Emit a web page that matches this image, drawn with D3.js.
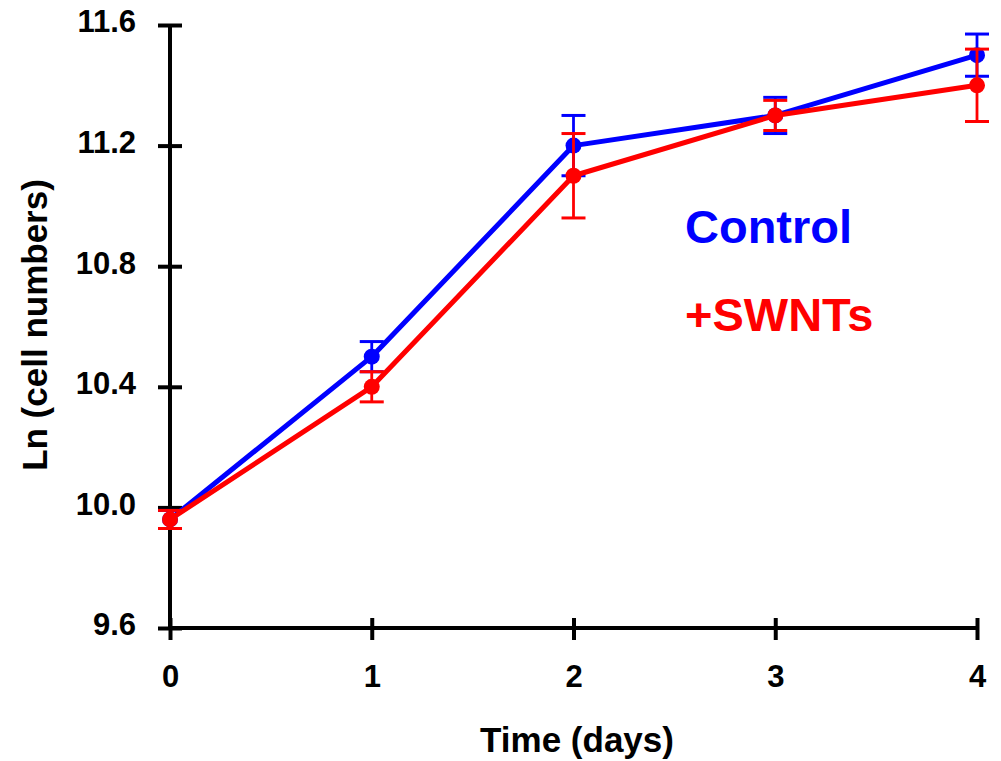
<!DOCTYPE html>
<html><head><meta charset="utf-8">
<script src="https://cdn.jsdelivr.net/npm/d3@7"></script>
<style>body{margin:0;background:#fff}</style>
</head><body>
<svg id="c" width="1001" height="761"></svg>
<script>
const days = [0, 1, 2, 3, 4];
const controlMean = [9.96, 10.50, 11.20, 11.30, 11.50];
const controlErr  = [0.03, 0.05, 0.10, 0.06, 0.07];
const swntMean    = [9.96, 10.40, 11.10, 11.30, 11.40];
const swntErr     = [0.03, 0.05, 0.14, 0.05, 0.12];
const yTicks = [9.6, 10.0, 10.4, 10.8, 11.2, 11.6];
const xTicks = [0, 1, 2, 3, 4];

const svg = d3.select("#c");
const font = "Arial, 'Liberation Sans', sans-serif";
const x = d3.scaleLinear().domain([0, 4]).range([170, 977]);
const y = d3.scaleLinear().domain([9.6, 11.6]).range([628, 25]);

// axes
const yAxis = svg.append("g").attr("transform", "translate(170,0)")
  .call(d3.axisLeft(y).tickValues(yTicks).tickFormat(d3.format(".1f")).tickSize(12).tickSizeOuter(0).tickPadding(22));
yAxis.select(".domain").remove();
yAxis.selectAll(".tick line").attr("x2", 12).attr("x1", -12).attr("stroke", "#000").attr("stroke-width", 4);
yAxis.selectAll("text").attr("font-family", font).attr("font-weight", "bold").attr("font-size", 31).attr("fill", "#000").attr("dy", "0.22em");

const xAxis = svg.append("g").attr("transform", "translate(0,628)")
  .call(d3.axisBottom(x).tickValues(xTicks).tickFormat(d3.format("d")).tickSize(12).tickSizeOuter(0).tickPadding(25));
xAxis.select(".domain").remove();
xAxis.selectAll(".tick line").attr("y1", -10).attr("y2", 12).attr("stroke", "#000").attr("stroke-width", 4);
xAxis.selectAll("text").attr("font-family", font).attr("font-weight", "bold").attr("font-size", 31).attr("fill", "#000");

svg.append("line").attr("x1", 170).attr("x2", 170).attr("y1", y(11.6)).attr("y2", 630).attr("stroke", "#000").attr("stroke-width", 4);
svg.append("line").attr("x1", 168).attr("x2", 979).attr("y1", 628).attr("y2", 628).attr("stroke", "#000").attr("stroke-width", 4);

function series(mean, err, color) {
  const g = svg.append("g");
  const line = d3.line().x((d, i) => x(days[i])).y(d => y(d));
  g.append("path").attr("d", line(mean)).attr("fill", "none").attr("stroke", color).attr("stroke-width", 5).attr("stroke-linejoin", "round");
  days.forEach((d, i) => {
    const cx = x(d), top = y(mean[i] + err[i]), bot = y(mean[i] - err[i]);
    g.append("line").attr("x1", cx).attr("x2", cx).attr("y1", top).attr("y2", bot).attr("stroke", color).attr("stroke-width", 2.8);
    [top, bot].forEach(yy => g.append("line").attr("x1", cx - 12).attr("x2", cx + 12).attr("y1", yy).attr("y2", yy).attr("stroke", color).attr("stroke-width", 3));
    g.append("circle").attr("cx", cx).attr("cy", y(mean[i])).attr("r", 8).attr("fill", color);
  });
}
series(controlMean, controlErr, "#0000ff");
series(swntMean, swntErr, "#ff0000");

// legend
svg.append("text").attr("x", 685).attr("y", 243).text("Control").attr("font-family", font).attr("font-weight", "bold").attr("font-size", 47).attr("fill", "#0000ff");
svg.append("text").attr("x", 685).attr("y", 331).text("+SWNTs").attr("font-family", font).attr("font-weight", "bold").attr("font-size", 47).attr("fill", "#ff0000");

// titles
svg.append("text").attr("x", 577).attr("y", 752).attr("text-anchor", "middle").text("Time (days)").attr("font-family", font).attr("font-weight", "bold").attr("font-size", 35);
svg.append("text").attr("transform", "translate(47,325) rotate(-90)").attr("text-anchor", "middle").text("Ln (cell numbers)").attr("font-family", font).attr("font-weight", "bold").attr("font-size", 35);
</script>
</body></html>
